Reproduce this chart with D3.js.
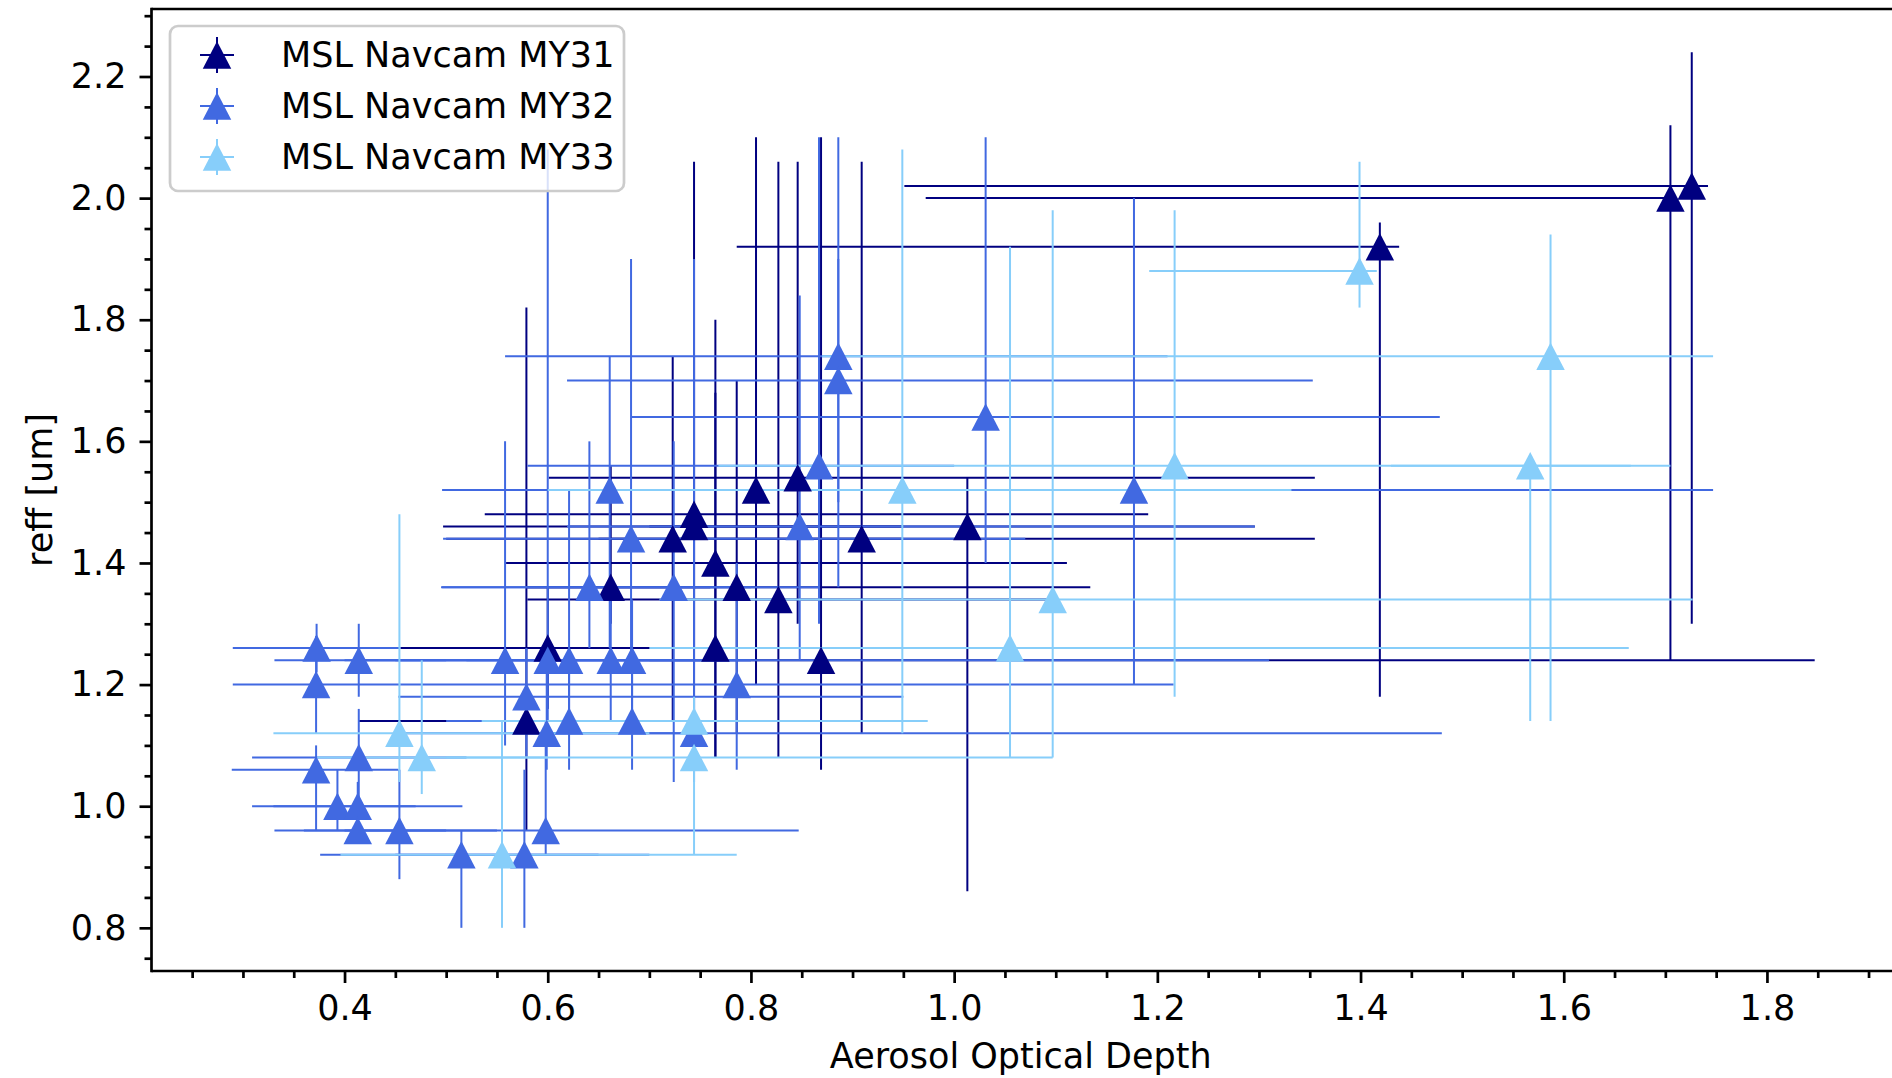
<!DOCTYPE html>
<html lang="en">
<head>
<meta charset="utf-8">
<title>reff vs Aerosol Optical Depth</title>
<script src="https://d3js.org/d3.v7.min.js"></script>
<style>
  body { margin: 0; background: #fff; }
  svg { display: block; font-family: "DejaVu Sans", sans-serif; }
  .axis line { stroke: #000; stroke-width: 2.7; }
  .axis text { font-size: 35px; fill: #000; }
</style>
</head>
<body>
<div id="chart"></div>
<script>
// MSL Navcam MY31 (navy)
var my31X   = [0.579,0.600,0.662,0.723,0.744,0.744,0.765,0.765,0.786,0.805,0.827,0.846,0.869,0.909,1.013,1.419,1.705,1.726];
var my31Y   = [1.14,1.26,1.36,1.44,1.48,1.46,1.40,1.26,1.36,1.52,1.34,1.54,1.24,1.44,1.46,1.92,2.00,2.02];
var my31XLo = [0.414,0.455,0.58,0.50,0.538,0.497,0.559,0.62,0.579,0.62,0.58,0.601,0.70,0.65,0.70,0.786,0.972,0.951];
var my31XHi = [0.744,0.704,0.76,0.95,1.191,0.95,1.111,0.90,1.134,0.99,1.10,1.355,1.847,1.355,1.296,1.438,1.705,1.742];
var my31YLo = [0.96,1.16,1.30,1.14,1.26,1.14,1.08,1.08,1.12,1.20,1.08,1.30,1.06,1.12,0.86,1.18,1.24,1.30];
var my31YHi = [1.82,1.36,1.56,1.74,2.06,1.74,1.80,1.68,1.70,2.10,2.06,2.06,2.10,2.06,1.54,1.96,2.12,2.24];

// MSL Navcam MY32 (royalblue)
var my32X   = [0.3725,0.414,0.372,0.372,0.414,0.393,0.413,0.413,0.454,0.515,0.577,0.598,0.558,0.579,0.600,0.599,0.621,0.621,0.641,0.661,0.662,0.682,0.683,0.683,0.724,0.744,0.786,0.848,0.867,0.886,0.886,1.031,1.177];
var my32Y   = [1.26,1.24,1.20,1.06,1.08,1.00,1.00,0.96,0.96,0.92,0.92,0.96,1.24,1.18,1.24,1.12,1.24,1.14,1.36,1.52,1.24,1.44,1.24,1.14,1.36,1.12,1.20,1.46,1.56,1.74,1.70,1.64,1.52];
var my32XLo = [0.290,0.331,0.290,0.289,0.309,0.309,0.330,0.331,0.360,0.376,0.450,0.400,0.420,0.453,0.400,0.450,0.450,0.500,0.496,0.496,0.520,0.497,0.560,0.600,0.495,0.600,0.455,0.619,0.580,0.558,0.619,0.682,0.610];
var my32XHi = [0.455,0.500,0.455,0.453,0.520,0.470,0.516,0.500,0.550,0.650,0.700,0.847,0.700,0.950,0.800,0.750,0.750,0.780,0.800,0.830,0.800,1.070,1.310,0.850,0.868,1.480,1.216,1.296,1.000,1.210,1.353,1.478,1.747];
var my32YLo = [1.22,1.18,1.12,0.96,1.00,0.96,0.96,0.94,0.88,0.80,0.80,0.92,1.10,1.08,1.14,1.06,1.14,1.06,1.26,1.26,1.14,1.24,1.14,1.06,1.04,1.04,1.06,1.24,1.30,1.36,1.50,1.40,1.20];
var my32YHi = [1.30,1.30,1.28,1.10,1.16,1.06,1.04,1.00,1.06,0.96,1.06,1.14,1.60,1.26,2.08,1.26,1.52,1.24,1.60,1.74,1.34,1.90,1.34,1.24,1.60,1.90,1.40,1.84,2.10,2.10,1.90,2.10,2.00];

// MSL Navcam MY33 (lightskyblue)
var my33X   = [0.454,0.476,0.555,0.744,0.744,0.949,1.055,1.097,1.217,1.399,1.567,1.587];
var my33Y   = [1.12,1.08,0.92,1.14,1.08,1.52,1.26,1.34,1.56,1.88,1.56,1.74];
var my33XLo = [0.33,0.373,0.396,0.535,0.50,0.60,0.70,0.71,0.768,1.192,1.43,0.87];
var my33XHi = [0.70,0.60,0.786,0.974,1.097,1.332,1.664,1.727,1.666,1.416,1.705,1.747];
var my33YLo = [1.04,1.02,0.80,1.10,0.92,1.12,1.08,1.08,1.18,1.82,1.14,1.14];
var my33YHi = [1.48,1.24,1.14,1.18,1.12,2.08,1.92,1.98,1.98,2.06,1.56,1.94];

var seriesNames  = ["MSL Navcam MY31", "MSL Navcam MY32", "MSL Navcam MY33"];
var seriesColors = ["#000080", "#4169e1", "#87cefa"];

var xMajor = [0.4, 0.6, 0.8, 1.0, 1.2, 1.4, 1.6, 1.8];
var yMajor = [0.8, 1.0, 1.2, 1.4, 1.6, 1.8, 2.0, 2.2];

var width = 1892, height = 1078;
var plotLeft = 151.5, plotTop = 9, plotBottom = 971;

function makeSeries(i, xs, ys, xl, xh, yl, yh) {
  return xs.map(function(v, k) {
    return {s: i, x: v, y: ys[k], xlo: xl[k], xhi: xh[k], ylo: yl[k], yhi: yh[k]};
  });
}
var groups = [
  makeSeries(0, my31X, my31Y, my31XLo, my31XHi, my31YLo, my31YHi),
  makeSeries(1, my32X, my32Y, my32XLo, my32XHi, my32YLo, my32YHi),
  makeSeries(2, my33X, my33Y, my33XLo, my33XHi, my33YLo, my33YHi)
];

var x = d3.scaleLinear().domain([0.21, 1.93]).range([plotLeft, plotLeft + 1.72 * 1016]);
var y = d3.scaleLinear().domain([0.729, 2.311]).range([plotBottom, plotTop]);

var svg = d3.select("#chart").append("svg")
    .attr("width", width)
    .attr("height", height);

svg.append("defs").append("clipPath").attr("id", "plotclip")
  .append("rect")
    .attr("x", plotLeft).attr("y", plotTop)
    .attr("width", x.range()[1] - plotLeft).attr("height", plotBottom - plotTop);

var plot = svg.append("g").attr("clip-path", "url(#plotclip)");

// error bars first (all series), markers on top
groups.forEach(function(pts) {
  var g = plot.append("g")
      .attr("stroke", seriesColors[pts[0].s])
      .attr("stroke-width", 2);
  g.selectAll(".xe").data(pts).enter().append("line")
      .attr("x1", function(d) { return x(d.xlo); })
      .attr("x2", function(d) { return x(d.xhi); })
      .attr("y1", function(d) { return y(d.y); })
      .attr("y2", function(d) { return y(d.y); });
  g.selectAll(".ye").data(pts).enter().append("line")
      .attr("x1", function(d) { return x(d.x); })
      .attr("x2", function(d) { return x(d.x); })
      .attr("y1", function(d) { return y(d.ylo); })
      .attr("y2", function(d) { return y(d.yhi); });
});

var tri = "M0,-13.75L14.25,13.75L-14.25,13.75Z";
groups.forEach(function(pts) {
  plot.append("g").selectAll("path").data(pts).enter().append("path")
      .attr("d", tri)
      .attr("fill", seriesColors[pts[0].s])
      .attr("transform", function(d) { return "translate(" + x(d.x) + "," + y(d.y) + ")"; });
});

// axes
var xMinor = d3.range(0.25, 1.951, 0.05).filter(function(v) {
  return !xMajor.some(function(m) { return Math.abs(m - v) < 1e-6; });
});
var yMinor = d3.range(0.75, 2.301, 0.05).filter(function(v) {
  return !yMajor.some(function(m) { return Math.abs(m - v) < 1e-6; });
});

var gx = svg.append("g").attr("class", "axis").attr("transform", "translate(0," + plotBottom + ")");
gx.call(d3.axisBottom(x).tickValues(xMinor).tickSize(7).tickFormat(""));
gx.append("g").call(d3.axisBottom(x).tickValues(xMajor).tickSize(12).tickPadding(12).tickFormat(d3.format(".1f")));
gx.selectAll(".domain").remove();

var gy = svg.append("g").attr("class", "axis").attr("transform", "translate(" + plotLeft + ",0)");
gy.call(d3.axisLeft(y).tickValues(yMinor).tickSize(7).tickFormat(""));
gy.append("g").call(d3.axisLeft(y).tickValues(yMajor).tickSize(12).tickPadding(13).tickFormat(d3.format(".1f")));
gy.selectAll(".domain").remove();
svg.selectAll(".axis text").attr("font-family", "DejaVu Sans, sans-serif").attr("font-size", 35);

// spines
svg.append("line").attr("x1", plotLeft).attr("x2", width + 10).attr("y1", plotBottom).attr("y2", plotBottom)
    .attr("stroke", "#000").attr("stroke-width", 2.7);
svg.append("line").attr("x1", plotLeft).attr("x2", width + 10).attr("y1", plotTop).attr("y2", plotTop)
    .attr("stroke", "#000").attr("stroke-width", 2.7);
svg.append("line").attr("x1", plotLeft).attr("x2", plotLeft).attr("y1", plotTop - 1.35).attr("y2", plotBottom + 1.35)
    .attr("stroke", "#000").attr("stroke-width", 2.7);

// axis titles
svg.append("text")
    .attr("x", (plotLeft + 1890) / 2)
    .attr("y", 1068)
    .attr("text-anchor", "middle")
    .style("font-size", "35px")
    .text("Aerosol Optical Depth");

svg.append("text")
    .attr("transform", "translate(52," + ((plotTop + plotBottom) / 2) + ") rotate(-90)")
    .attr("text-anchor", "middle")
    .style("font-size", "35px")
    .text("reff [um]");

// legend
var legend = svg.append("g");
legend.append("rect")
    .attr("x", 170).attr("y", 26)
    .attr("width", 454).attr("height", 165)
    .attr("rx", 8).attr("ry", 8)
    .attr("fill", "#fff").attr("fill-opacity", 0.8)
    .attr("stroke", "#cccccc").attr("stroke-width", 2.7);

var rows = legend.selectAll(".row").data(seriesNames).enter().append("g")
    .attr("transform", function(d, i) { return "translate(217," + (55 + i * 51) + ")"; });
rows.append("line").attr("x1", -17).attr("x2", 17).attr("y1", 0).attr("y2", 0)
    .attr("stroke", function(d, i) { return seriesColors[i]; }).attr("stroke-width", 2);
rows.append("line").attr("x1", 0).attr("x2", 0).attr("y1", -18).attr("y2", 18)
    .attr("stroke", function(d, i) { return seriesColors[i]; }).attr("stroke-width", 2);
rows.append("path").attr("d", tri)
    .attr("fill", function(d, i) { return seriesColors[i]; });
rows.append("text")
    .attr("x", 64)
    .attr("y", 12)
    .style("font-size", "35px")
    .text(function(d) { return d; });
</script>
</body>
</html>
